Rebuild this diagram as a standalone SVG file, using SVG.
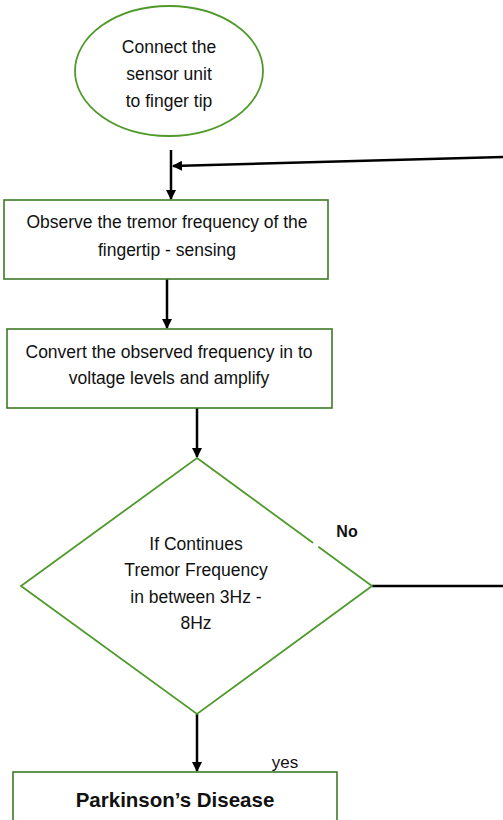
<svg xmlns="http://www.w3.org/2000/svg" width="503" height="820" viewBox="0 0 503 820">
<defs>
<marker id="ah" markerWidth="10" markerHeight="10" refX="9" refY="5" orient="auto" markerUnits="userSpaceOnUse">
<path d="M0,0 L10,5 L0,10 Z" fill="#000"/>
</marker>
<style>
.t{font-family:"Liberation Sans",Arial,sans-serif;font-size:17.5px;fill:#111;text-anchor:middle}
.b{font-weight:bold}
.box{fill:#fff;stroke:#3d7a26;stroke-width:1.6}
.sh{fill:#fff;stroke:#4f9a2a;stroke-width:1.8}
.c{fill:none;stroke:#000;stroke-width:2.5}
</style>
</defs>
<rect width="503" height="820" fill="#fff"/>
<g id="connectors">
<line class="c" x1="171" y1="150" x2="171" y2="199" marker-end="url(#ah)"/>
<line class="c" x1="503" y1="157" x2="173" y2="166" marker-end="url(#ah)"/>
<line class="c" x1="167" y1="279" x2="167" y2="328" marker-end="url(#ah)"/>
<line class="c" x1="197" y1="408" x2="197" y2="457" marker-end="url(#ah)"/>
<line class="c" x1="372" y1="586" x2="503" y2="586"/>
<line class="c" x1="197" y1="714" x2="197" y2="771" marker-end="url(#ah)"/>
<text class="t b" x="347" y="537" style="font-size:16px">No</text>
<text class="t" x="285" y="768" style="font-size:17px">yes</text>
</g>
<g id="start">
<ellipse class="sh" cx="169" cy="71" rx="94" ry="65"/>
<text class="t" x="169" y="53">Connect the</text>
<text class="t" x="169" y="80">sensor unit</text>
<text class="t" x="169" y="107">to finger tip</text>
</g>
<g id="observe">
<rect class="box" x="4" y="200" width="324" height="79"/>
<text class="t" x="167" y="228">Observe the tremor frequency of the</text>
<text class="t" x="167" y="256">fingertip - sensing</text>
</g>
<g id="convert">
<rect class="box" x="7" y="329" width="325" height="79"/>
<text class="t" x="169" y="358">Convert the observed frequency in to</text>
<text class="t" x="169" y="384">voltage levels and amplify</text>
</g>
<g id="decision">
<polygon class="sh" points="197,458 372,586 197,714 21,586"/>
<line x1="313" y1="543" x2="318" y2="547" stroke="#fff" stroke-width="4"/>
<text class="t" x="196" y="550">If Continues</text>
<text class="t" x="196" y="576">Tremor Frequency</text>
<text class="t" x="196" y="603">in between 3Hz -</text>
<text class="t" x="196" y="629">8Hz</text>
</g>
<g id="result">
<rect class="box" x="13" y="772" width="324" height="60"/>
<text class="t b" x="175" y="807" style="font-size:20.5px">Parkinson’s Disease</text>
</g>
</svg>
